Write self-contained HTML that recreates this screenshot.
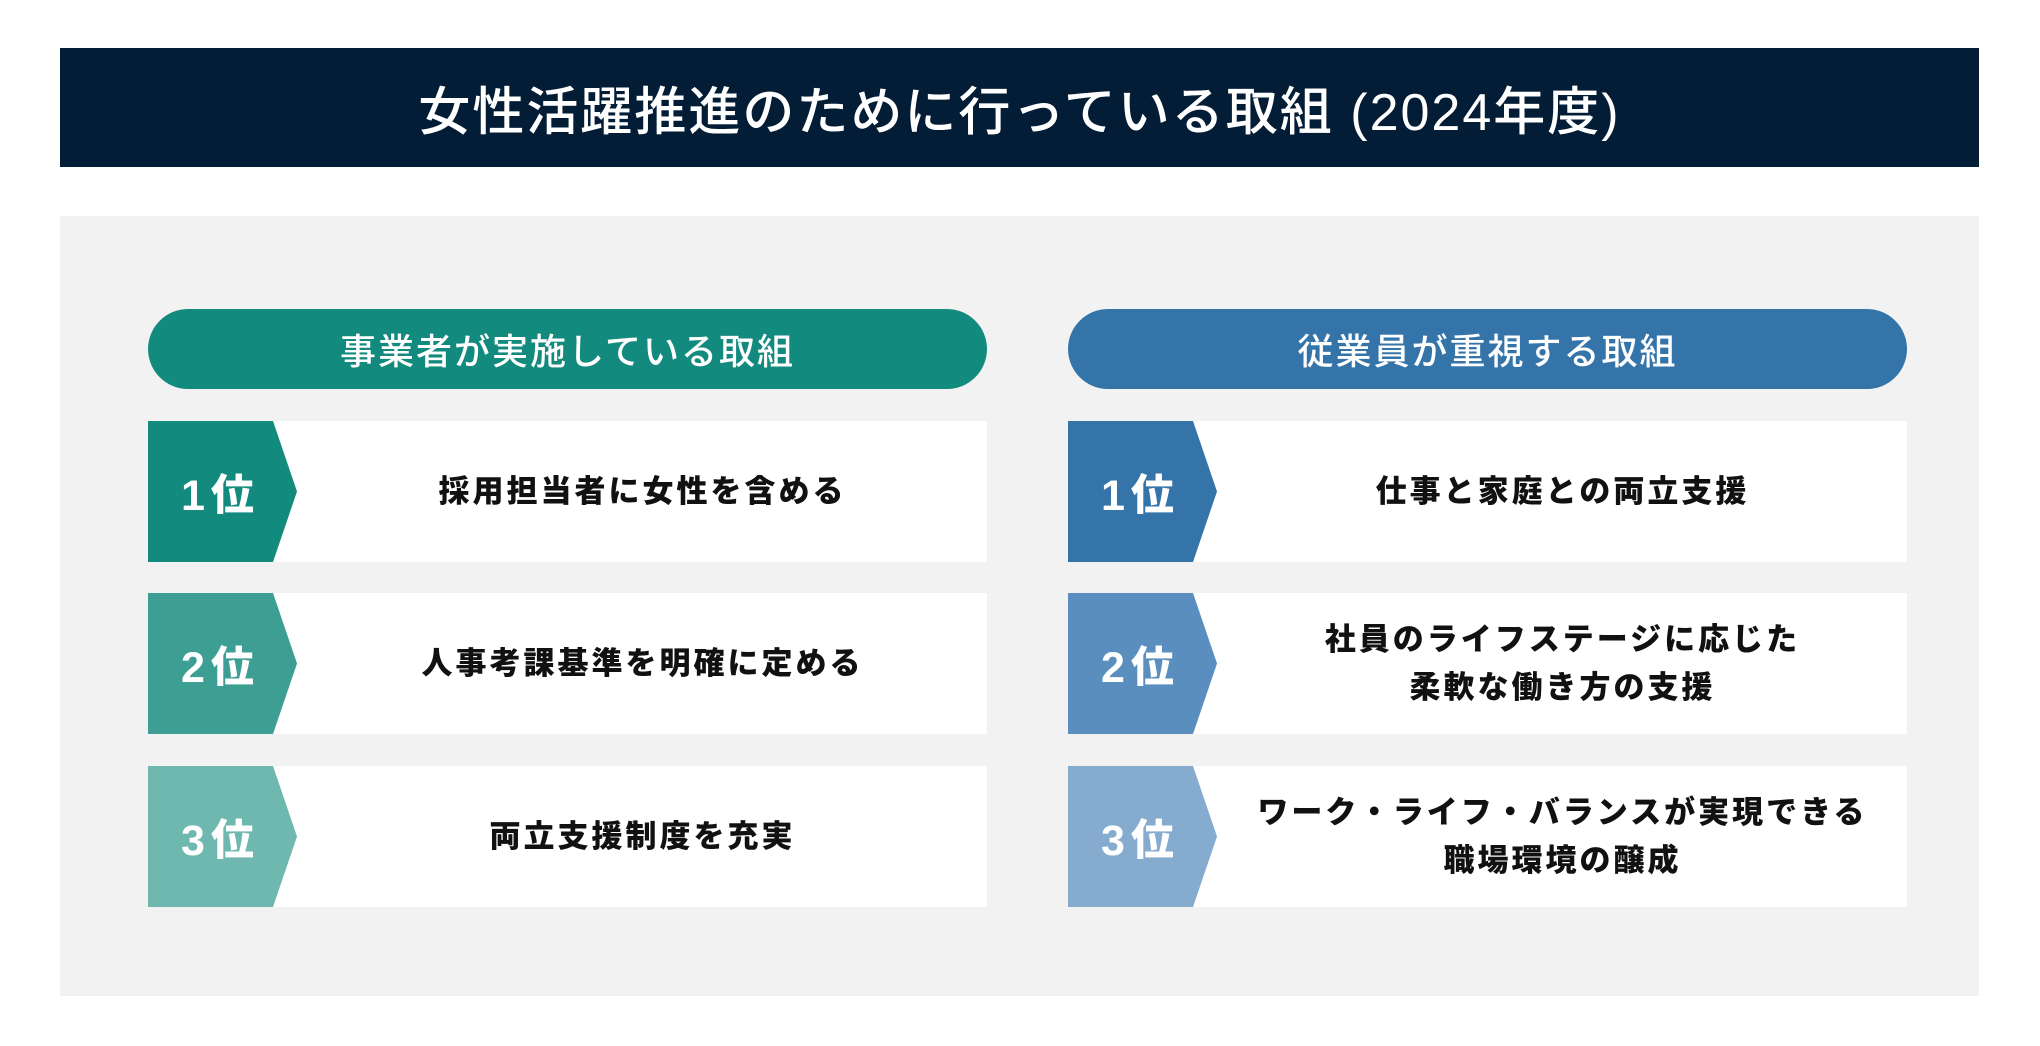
<!DOCTYPE html>
<html><head><meta charset="utf-8"><style>
*{margin:0;padding:0;box-sizing:border-box}
body{width:2040px;height:1046px;background:#fff;position:relative;overflow:hidden;font-family:"Liberation Sans","Noto Sans CJK JP",sans-serif}
.title{position:absolute;left:60px;top:48px;width:1919px;height:119px;background:#041d36;color:#fff;font-size:52px;font-weight:500;display:flex;align-items:center;justify-content:center;letter-spacing:2px}
.panel{position:absolute;left:60px;top:216px;width:1919px;height:780px;background:#f2f2f2}
.pill{position:absolute;top:309px;width:839px;height:80px;border-radius:40px;color:#fff;font-size:36px;font-weight:500;display:flex;align-items:center;justify-content:center;letter-spacing:2px}
.row{position:absolute;width:839px;height:141px;background:#fff}
.badge{position:absolute;left:0;top:0;width:149px;height:141px;clip-path:polygon(0 0,125px 0,149px 50%,125px 100%,0 100%);color:#fff;font-weight:900;font-size:43px;display:flex;align-items:center;padding-left:33px;letter-spacing:6px}
.txt{position:absolute;left:150px;right:0;top:0;bottom:0;display:flex;align-items:center;justify-content:center;text-align:center;font-weight:900;font-size:31px;letter-spacing:3px;line-height:48px;color:#111}
</style></head><body>
<div class="title">女性活躍推進のために行っている取組 (2024年度)</div>
<div class="panel"></div>
<div class="pill" style="left:148px;background:#138a7e">事業者が実施している取組</div>
<div class="pill" style="left:1068px;background:#3474a9">従業員が重視する取組</div>

<div class="row" style="left:148px;top:421px"><div class="badge" style="background:#138a7e">1位</div><div class="txt">採用担当者に女性を含める</div></div>
<div class="row" style="left:148px;top:593px"><div class="badge" style="background:#3d9e93">2位</div><div class="txt">人事考課基準を明確に定める</div></div>
<div class="row" style="left:148px;top:766px"><div class="badge" style="background:#6fb8b0">3位</div><div class="txt">両立支援制度を充実</div></div>

<div class="row" style="left:1068px;top:421px"><div class="badge" style="background:#3474a9">1位</div><div class="txt">仕事と家庭との両立支援</div></div>
<div class="row" style="left:1068px;top:593px"><div class="badge" style="background:#5a8ebe">2位</div><div class="txt">社員のライフステージに応じた<br>柔軟な働き方の支援</div></div>
<div class="row" style="left:1068px;top:766px"><div class="badge" style="background:#85abcf">3位</div><div class="txt">ワーク・ライフ・バランスが実現できる<br>職場環境の醸成</div></div>
</body></html>
